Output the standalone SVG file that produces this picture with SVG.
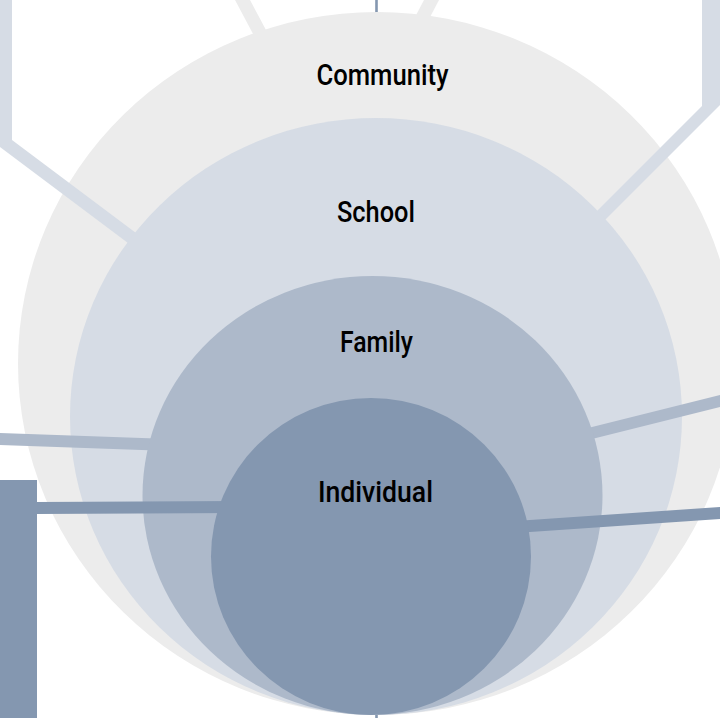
<svg xmlns="http://www.w3.org/2000/svg" width="720" height="718" viewBox="0 0 720 718">
<style>
.lbl{font-family:Roboto,"Liberation Sans",Arial,sans-serif;font-weight:500;font-size:29px;fill:#000;text-anchor:middle}
.c-com{fill:#ececec}
.c-sch{fill:#d6dce5}
.c-fam{fill:#adb9ca}
.c-ind{fill:#8497b0}
</style>
<rect width="720" height="718" fill="#ffffff"/>
<g id="axis">
<line x1="376.5" y1="0" x2="376.5" y2="718" stroke="#8497b0" stroke-width="2.6"/>
</g>
<g id="connectors-community">
<polygon class="c-com" points="235,0 250,0 274,45 259,45"/>
<polygon class="c-com" points="424,0 439,0 418,40 403,40"/>
</g>
<g id="community">
<ellipse class="c-com" cx="377" cy="363.5" rx="359" ry="351.5"/>
</g>
<g id="connectors-school">
<polygon class="c-sch" points="0,0 12,0 12,140 150,243.5 140,252 0,147"/>
<polygon class="c-sch" points="702,0 720,0 720,105 595,230 580,228 702,106"/>
</g>
<g id="school">
<ellipse class="c-sch" cx="376" cy="416.5" rx="306" ry="298.5"/>
</g>
<g id="connectors-family">
<polygon class="c-fam" points="0,433 170,439 170,451 0,445"/>
<polygon class="c-fam" points="720,395 720,407 570,444.5 570,432.5"/>
</g>
<g id="family">
<ellipse class="c-fam" cx="372.5" cy="495.5" rx="230" ry="219.5"/>
</g>
<g id="connectors-individual">
<rect class="c-ind" x="0" y="480" width="37" height="238"/>
<polygon class="c-ind" points="37,502 240,501 240,513 37,514"/>
<polygon class="c-ind" points="720,507 720,519 500,534 500,522"/>
</g>
<g id="individual">
<ellipse class="c-ind" cx="371" cy="556.5" rx="160" ry="158.5"/>
</g>
<g id="labels">
<text class="lbl" x="382.5" y="85" textLength="132" lengthAdjust="spacingAndGlyphs">Community</text>
<text class="lbl" x="376" y="222" textLength="78" lengthAdjust="spacingAndGlyphs">School</text>
<text class="lbl" x="376.5" y="352" textLength="73" lengthAdjust="spacingAndGlyphs">Family</text>
<text class="lbl" x="375.5" y="502" textLength="115" lengthAdjust="spacingAndGlyphs">Individual</text>
</g>
</svg>
